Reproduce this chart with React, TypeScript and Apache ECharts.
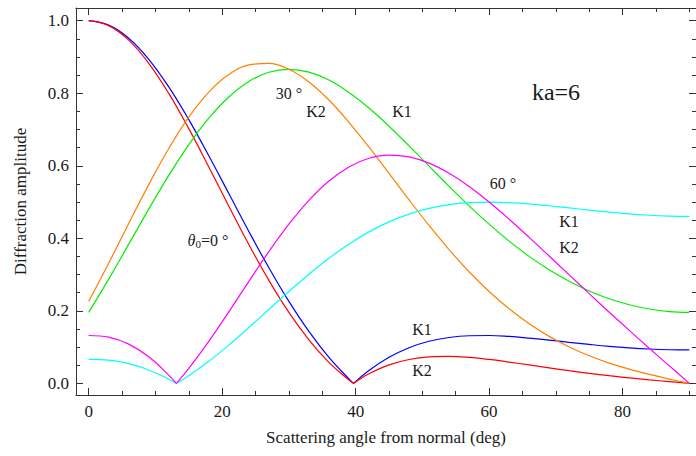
import React, { useEffect, useRef } from "react";
import * as echarts from "echarts";

// Scattering angle (deg)
const ANGLES = [0, 3, 6, 9, 12, 15, 18, 21, 24, 27, 30, 33, 36, 39, 42, 45, 48, 51, 54, 57, 60, 63, 66, 69, 72, 75, 78, 81, 84, 87, 90];

// theta0 = 0 deg (zero of amplitude at ~39.7 deg)
const K1_THETA0_0 = [1, 0.9877, 0.9516, 0.8936, 0.8175, 0.7272, 0.6275, 0.5233, 0.419, 0.3189, 0.2261, 0.1433, 0.0717, 0.0121, 0.0356, 0.072, 0.0984, 0.1161, 0.1266, 0.1314, 0.132, 0.1294, 0.1248, 0.1193, 0.1133, 0.1075, 0.1022, 0.098, 0.0948, 0.0928, 0.0922];
const K2_THETA0_0 = [1, 0.9863, 0.9464, 0.8826, 0.7996, 0.7024, 0.5968, 0.4885, 0.3828, 0.2841, 0.1958, 0.1202, 0.058, 0.0094, 0.0265, 0.0509, 0.0658, 0.0731, 0.0744, 0.0716, 0.066, 0.0587, 0.0508, 0.0428, 0.035, 0.0278, 0.0212, 0.0153, 0.0099, 0.0049, 0];
const ZERO_THETA0_0 = 39.69;

// theta0 = 30 deg
const K1_THETA0_30 = [0.1958, 0.2875, 0.3839, 0.4806, 0.5734, 0.6581, 0.7313, 0.7898, 0.8326, 0.8578, 0.866, 0.8582, 0.8363, 0.8022, 0.7592, 0.7091, 0.655, 0.5992, 0.5434, 0.4896, 0.439, 0.3922, 0.3502, 0.3132, 0.2814, 0.2547, 0.2333, 0.2168, 0.2052, 0.1981, 0.1958];
const K2_THETA0_30 = [0.2261, 0.3315, 0.4409, 0.5481, 0.6476, 0.734, 0.8031, 0.8514, 0.8783, 0.8825, 0.866, 0.8311, 0.7813, 0.7199, 0.6514, 0.579, 0.5061, 0.4354, 0.3688, 0.3079, 0.2535, 0.2056, 0.1645, 0.1296, 0.1004, 0.0761, 0.056, 0.0392, 0.0248, 0.012, 0];

// theta0 = 60 deg (zero of amplitude at ~13.1 deg)
const K1_THETA0_60 = [0.066, 0.0639, 0.0544, 0.037, 0.0116, 0.0214, 0.0609, 0.1057, 0.154, 0.2039, 0.2535, 0.301, 0.3449, 0.384, 0.4177, 0.4452, 0.4666, 0.4824, 0.4927, 0.4983, 0.5, 0.4986, 0.495, 0.4898, 0.4839, 0.4779, 0.4722, 0.4673, 0.4636, 0.4614, 0.4607];
const K2_THETA0_60 = [0.132, 0.1275, 0.1082, 0.0732, 0.0227, 0.0412, 0.1158, 0.1974, 0.2813, 0.3633, 0.439, 0.5048, 0.5581, 0.5969, 0.6207, 0.6295, 0.6245, 0.6072, 0.5792, 0.5428, 0.5, 0.4527, 0.4026, 0.3511, 0.2991, 0.2474, 0.1963, 0.1462, 0.0969, 0.0483, 0];
const ZERO_THETA0_60 = 13.14;

// Ticks
const X_MAJOR = [0, 20, 40, 60, 80];
const X_MINOR = [5, 10, 15, 25, 30, 35, 45, 50, 55, 65, 70, 75, 85, 90];
const Y_MAJOR = [0, 0.2, 0.4, 0.6, 0.8, 1.0];
const Y_MINOR = [0.05, 0.1, 0.15, 0.25, 0.3, 0.35, 0.45, 0.5, 0.55, 0.65, 0.7, 0.75, 0.85, 0.9, 0.95];

const FONT = "Liberation Serif";
const AXIS_COLOR = "#333";
const TEXT_COLOR = "#1a1a1a";

const X_MIN = -1.9;
const X_MAX = 91;
const Y_MIN = -0.032;
const Y_MAX = 1.035;

function parts(ys: number[], zero: number | null): number[][][] {
  const pts = ANGLES.map((a, i) => [a, ys[i]]);
  if (zero === null) return [pts];
  const a = pts.filter((p) => p[0] < zero).concat([[zero, 0]]);
  const b = [[zero, 0]].concat(pts.filter((p) => p[0] > zero));
  return [a, b];
}

function lineSeries(name: string, ys: number[], zero: number | null, color: string) {
  return parts(ys, zero).map((data, i) => ({
    name: name + "_" + i,
    type: "line",
    data,
    smooth: 0.4,
    symbol: "none",
    xAxisIndex: 0,
    yAxisIndex: 0,
    lineStyle: { color, width: 1.2 },
    silent: true,
  }));
}

function xAxis(position: string, ticks: number[], len: number, showLine: boolean, showLabel: boolean, extra: any = {}) {
  return {
    type: "value",
    position,
    min: X_MIN,
    max: X_MAX,
    splitLine: { show: false },
    axisLine: { show: showLine, onZero: false, lineStyle: { color: AXIS_COLOR, width: 1 } },
    axisTick: { show: true, inside: true, length: len, customValues: ticks, lineStyle: { color: AXIS_COLOR, width: 1 } },
    axisLabel: {
      show: showLabel,
      customValues: ticks,
      margin: 8,
      fontFamily: FONT,
      fontSize: 17,
      color: TEXT_COLOR,
    },
    ...extra,
  };
}

function yAxis(position: string, ticks: number[], len: number, showLine: boolean, showLabel: boolean, extra: any = {}) {
  return {
    type: "value",
    position,
    min: Y_MIN,
    max: Y_MAX,
    splitLine: { show: false },
    axisLine: { show: showLine, onZero: false, lineStyle: { color: AXIS_COLOR, width: 1 } },
    axisTick: { show: true, inside: true, length: len, customValues: ticks, lineStyle: { color: AXIS_COLOR, width: 1 } },
    axisLabel: {
      show: showLabel,
      customValues: ticks,
      margin: 7,
      fontFamily: FONT,
      fontSize: 17,
      color: TEXT_COLOR,
      formatter: (v: number) => v.toFixed(1),
    },
    ...extra,
  };
}

function label(text: string, x: number, y: number, size = 16) {
  return {
    type: "text",
    x,
    y,
    silent: true,
    style: {
      text,
      fontFamily: FONT,
      fontSize: size,
      fill: TEXT_COLOR,
      align: "center",
      verticalAlign: "middle",
    },
  };
}

export default function App() {
  const ref = useRef<HTMLDivElement>(null);

  useEffect(() => {
    if (!ref.current) return;
    const chart = echarts.init(ref.current, null, { renderer: "svg" });
    chart.setOption({
      animation: false,
      backgroundColor: "#ffffff",
      textStyle: { fontFamily: FONT },
      grid: { left: 76, top: 8, right: 0, bottom: 61, containLabel: false, outerBoundsMode: "none" },
      xAxis: [
        xAxis("bottom", X_MAJOR, 7, true, true, {
          name: "Scattering angle from normal (deg)",
          nameLocation: "middle",
          nameGap: 34,
          nameTextStyle: { fontFamily: FONT, fontSize: 17, color: TEXT_COLOR },
        }),
        xAxis("bottom", X_MINOR, 4, false, false),
        xAxis("top", X_MAJOR, 7, true, false),
        xAxis("top", X_MINOR, 4, false, false),
      ],
      yAxis: [
        yAxis("left", Y_MAJOR, 7, true, true, {
          name: "Diffraction amplitude",
          nameLocation: "middle",
          nameGap: 47,
          nameTextStyle: { fontFamily: FONT, fontSize: 17, color: TEXT_COLOR },
        }),
        yAxis("left", Y_MINOR, 4, false, false),
        yAxis("right", Y_MAJOR, 7, true, false),
        yAxis("right", Y_MINOR, 4, false, false),
      ],
      series: [
        ...lineSeries("K1 0", K1_THETA0_0, ZERO_THETA0_0, "#0000ff"),
        ...lineSeries("K2 0", K2_THETA0_0, ZERO_THETA0_0, "#ff0000"),
        ...lineSeries("K1 30", K1_THETA0_30, null, "#00ee00"),
        ...lineSeries("K2 30", K2_THETA0_30, null, "#ff8000"),
        ...lineSeries("K1 60", K1_THETA0_60, ZERO_THETA0_60, "#00ffff"),
        ...lineSeries("K2 60", K2_THETA0_60, ZERO_THETA0_60, "#ff00ff"),
      ],
      graphic: [
        {
          type: "text",
          x: 208,
          y: 240,
          silent: true,
          style: {
            text: "{i|θ}{s|0}{n|=0 °}",
            align: "center",
            verticalAlign: "middle",
            fill: TEXT_COLOR,
            fontFamily: FONT,
            rich: {
              i: { fontFamily: FONT, fontSize: 16, fontStyle: "italic", lineHeight: 18, fill: TEXT_COLOR },
              s: { fontFamily: FONT, fontSize: 11, verticalAlign: "bottom", fill: TEXT_COLOR },
              n: { fontFamily: FONT, fontSize: 16, lineHeight: 18, fill: TEXT_COLOR },
            },
          },
        },
        label("30 °", 289, 93),
        label("K2", 316, 111),
        label("K1", 402, 111),
        label("ka=6", 556, 92, 24),
        label("60 °", 503, 183),
        label("K1", 569, 221),
        label("K2", 569, 247),
        label("K1", 422, 329),
        label("K2", 422, 370),
      ],
    });
    return () => chart.dispose();
  }, []);

  return (
    <div
      ref={ref}
      style={{ position: "fixed", left: 0, top: 0, width: 696, height: 456, background: "#fff" }}
    />
  );
}
